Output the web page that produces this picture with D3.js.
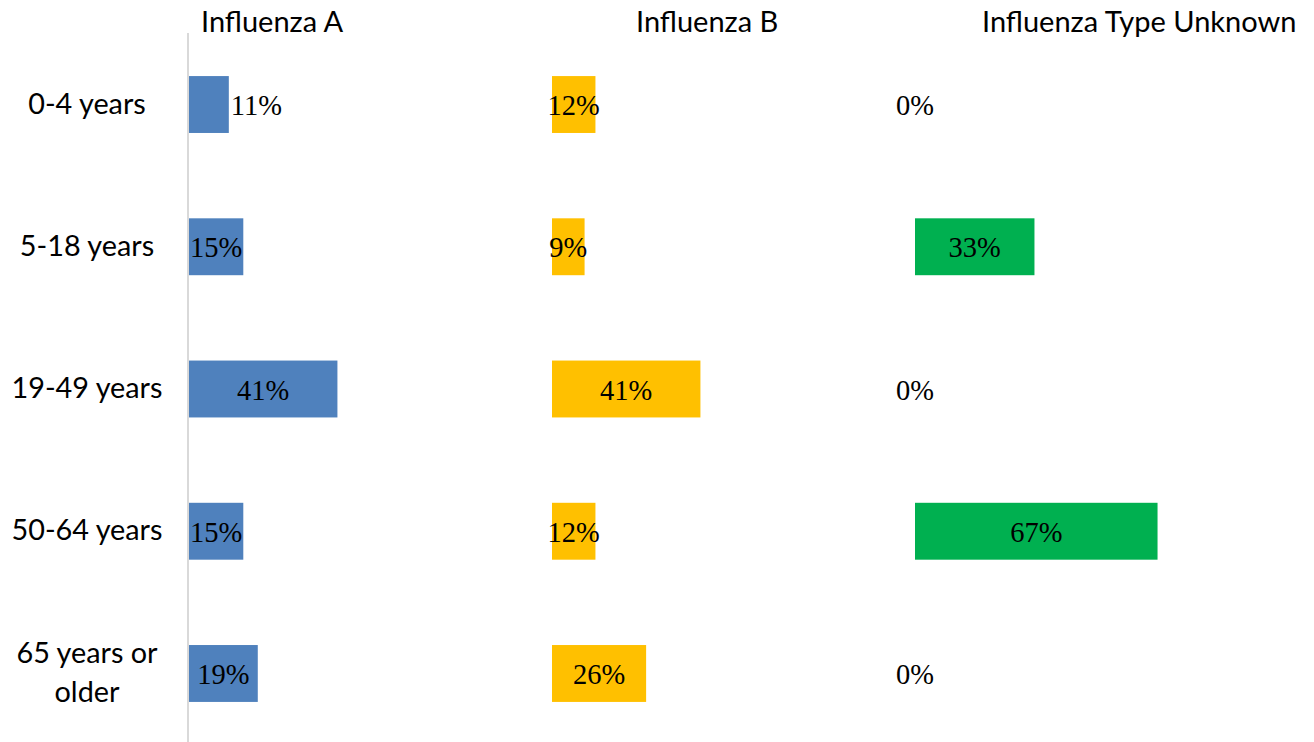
<!DOCTYPE html>
<html>
<head>
<meta charset="utf-8">
<script src="https://cdn.jsdelivr.net/npm/d3@7"></script>
<style>
  html, body { margin: 0; padding: 0; background: #fff; }
</style>
</head>
<body>
<script>
// DATA
const ageGroups = ['0-4 years', '5-18 years', '19-49 years', '50-64 years', '65 years or older'];
const seriesNames = ['Influenza A', 'Influenza B', 'Influenza Type Unknown'];
const fluA = [11, 15, 41, 15, 19];
const fluB = [12, 9, 41, 12, 26];
const fluUnknown = [0, 33, 0, 67, 0];
const seriesColors = ['#4F81BD', '#FFC000', '#00B050'];

const width = 1314;
const height = 742;
const panelStart = [189, 552, 915];
const panelWidth = 362;
const headerX = [201, 636, 982];
const sansFont = 'Lato, Carlito, Calibri, sans-serif';

const svg = d3.select('body')
  .append('svg')
  .attr('width', width)
  .attr('height', height);

const y = d3.scaleBand()
  .domain(ageGroups)
  .range([33.4, 744.6])
  .paddingInner(0.6)
  .paddingOuter(0.3);

const series = [fluA, fluB, fluUnknown];

// axis line
svg.append('line')
  .attr('x1', 188).attr('x2', 188)
  .attr('y1', 33).attr('y2', height)
  .attr('stroke', '#d9d9d9')
  .attr('stroke-width', 2);

// category labels
const catLabels = svg.append('g')
  .attr('font-family', sansFont)
  .attr('font-size', 28.8)
  .attr('fill', '#000');

ageGroups.forEach(name => {
  const cy = y(name) + y.bandwidth() / 2;
  const lines = name === '65 years or older' ? ['65 years or', 'older'] : [name];
  const t = catLabels.append('text')
    .attr('text-anchor', 'middle')
    .attr('x', 87)
    .attr('y', cy + 9 - (lines.length - 1) * 19.5);
  lines.forEach((l, i) => {
    t.append('tspan')
      .attr('x', 87)
      .attr('dy', i === 0 ? 0 : 39)
      .text(l);
  });
});

// panels
series.forEach((values, s) => {
  const x = d3.scaleLinear()
    .domain([0, 100])
    .range([panelStart[s], panelStart[s] + panelWidth]);

  svg.append('text')
    .attr('x', headerX[s])
    .attr('y', 32)
    .attr('font-family', sansFont)
    .attr('font-size', 29)
    .text(seriesNames[s]);

  const g = svg.append('g');

  g.selectAll('rect')
    .data(values)
    .enter()
    .append('rect')
    .attr('x', x(0))
    .attr('y', (d, i) => y(ageGroups[i]))
    .attr('width', d => x(d) - x(0))
    .attr('height', y.bandwidth())
    .attr('fill', seriesColors[s]);

  g.selectAll('text')
    .data(values)
    .enter()
    .append('text')
    .attr('font-family', '"Liberation Serif", "Times New Roman", serif')
    .attr('font-size', 28.5)
    .attr('fill', '#000')
    // the first A label sits just past its bar
    .attr('text-anchor', (d, i) => (s === 0 && i === 0 ? 'start' : 'middle'))
    .attr('x', (d, i) => (s === 0 && i === 0 ? x(d) + 2 : (x(0) + x(d)) / 2))
    .attr('y', (d, i) => y(ageGroups[i]) + y.bandwidth() / 2 + 10.5)
    .text(d => `${d}%`);
});
</script>
</body>
</html>
